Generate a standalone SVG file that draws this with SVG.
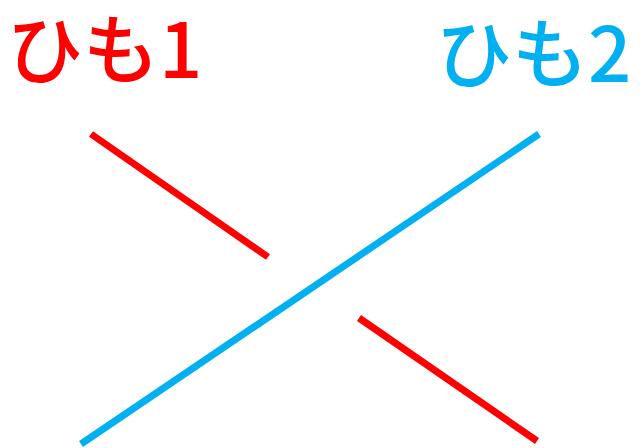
<svg xmlns="http://www.w3.org/2000/svg" width="644" height="448" viewBox="0 0 644 448">
<style>
.t{font-family:"Noto Sans CJK JP","Noto Sans",sans-serif;font-size:76px;font-weight:500}
.r{stroke:#FF0000;stroke-width:7;fill:none}
.b{stroke:#00B0F0;stroke-width:7;fill:none}
</style>
<rect width="644" height="448" fill="#fff"/>
<g id="label1"><text class="t" x="7" y="78" fill="#FF0000">ひも1</text></g>
<g id="label2"><text class="t" x="436" y="82" fill="#00B0F0">ひも2</text></g>
<g id="connectors">
<line class="r" x1="91" y1="134" x2="268" y2="257"/>
<line class="r" x1="359" y1="318" x2="537" y2="441"/>
<line class="b" x1="81" y1="444" x2="539" y2="134"/>
</g>
</svg>
